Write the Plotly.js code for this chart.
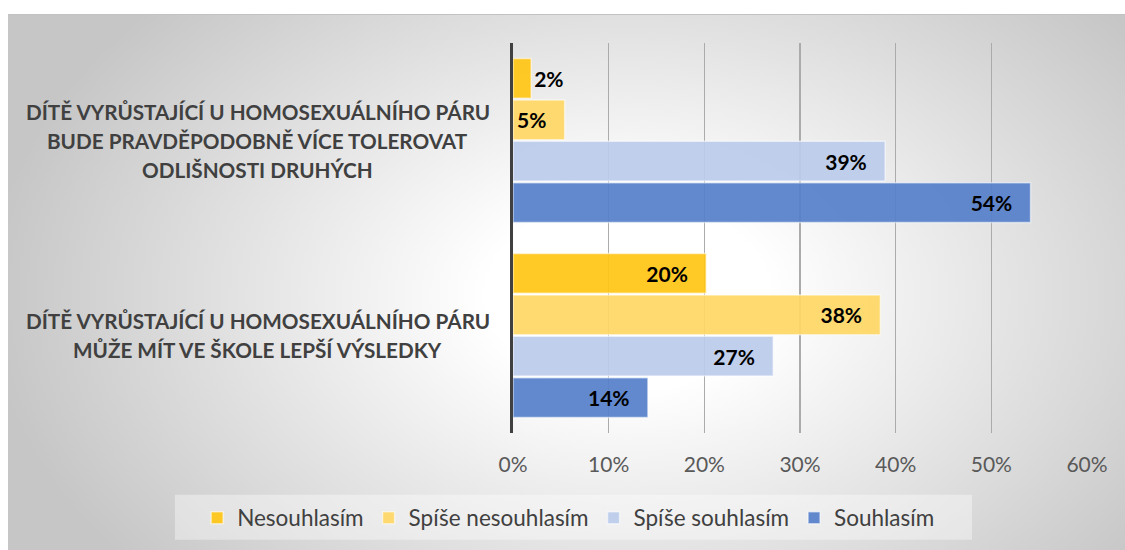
<!DOCTYPE html>
<html><head><meta charset="utf-8">
<script src="https://cdn.plot.ly/plotly-3.0.1.min.js"></script>
<style>
html,body{margin:0;padding:0;background:#fff;}
#wrap{position:relative;width:1125px;height:550px;overflow:hidden;}
#bg{position:absolute;left:8px;top:14px;width:1117px;height:536px;border-top:1px solid #c2c2c2;
background:radial-gradient(ellipse 640px 430px at 620px 280px,#ffffff 0%,#ffffff 22%,#c6c6c6 100%);}
#chart{position:absolute;left:0;top:0;width:1125px;height:550px;}
</style></head>
<body><div id="wrap"><div id="bg"></div><div id="chart"></div></div>
<script>
// ---- data ----
const categoryLines = [
  ["DÍTĚ VYRŮSTAJÍCÍ U HOMOSEXUÁLNÍHO PÁRU", "BUDE PRAVDĚPODOBNĚ VÍCE TOLEROVAT", "ODLIŠNOSTI DRUHÝCH"],
  ["DÍTĚ VYRŮSTAJÍCÍ U HOMOSEXUÁLNÍHO PÁRU", "MŮŽE MÍT VE ŠKOLE LEPŠÍ VÝSLEDKY"]
];
const categories = categoryLines.map(l => l.join(' '));
const seriesNames = ["Nesouhlasím", "Spíše nesouhlasím", "Spíše souhlasím", "Souhlasím"];
const nesouhlasim = [1.9, 20.2];
const spiseNesouhlasim = [5.4, 38.4];
const spiseSouhlasim = [38.9, 27.2];
const souhlasim = [54.1, 14.1];
const xTickValues = [0, 10, 20, 30, 40, 50, 60];

// ---- styling ----
const FONT = 'Lato, "Open Sans", "DejaVu Sans", sans-serif';
const colors = ["rgba(255,196,20,0.92)", "rgba(255,215,100,0.92)", "rgba(186,203,234,0.92)", "rgba(85,127,202,0.92)"];
const seriesValues = [nesouhlasim, spiseNesouhlasim, spiseSouhlasim, souhlasim];

const traces = seriesValues.map((vals, i) => ({
  type: 'bar',
  orientation: 'h',
  name: seriesNames[i],
  x: vals,
  y: categories,
  marker: {color: colors[i], line: {color: 'rgba(255,255,255,0.55)', width: 1.5}},
  texttemplate: '%{x:.0f}%\u00a0\u00a0\u00a0',
  textposition: vals.map(v => v < 4 ? 'outside' : 'inside'),
  insidetextanchor: 'end',
  constraintext: 'none',
  cliponaxis: false,
  textfont: {family: FONT, size: 21, color: '#000', weight: 'bold'},
  insidetextfont: {family: FONT, size: 21, color: '#000', weight: 'bold'},
  outsidetextfont: {family: FONT, size: 21, color: '#000', weight: 'bold'},
  hoverinfo: 'skip'
}));

const annotations = [];
categoryLines.forEach((lines, ci) => {
  const n = lines.length;
  lines.forEach((line, li) => {
    annotations.push({
      xref: 'paper', yref: 'y', x: -0.4443, y: categories[ci], xanchor: 'center', yanchor: 'middle',
      yshift: ((n - 1) / 2 - li) * 29, text: line, showarrow: false,
      font: {family: FONT, size: 20.7, color: '#404040', weight: 'bold'}
    });
  });
});

const layout = {
  width: 1125, height: 550,
  margin: {l: 513, r: 38, t: 43, b: 116, pad: 0},
  paper_bgcolor: 'rgba(0,0,0,0)',
  plot_bgcolor: 'rgba(0,0,0,0)',
  barmode: 'group',
  bargap: 0.15,
  bargroupgap: 0.04,
  showlegend: true,
  xaxis: {
    range: [0, 60], tickvals: xTickValues, ticktext: xTickValues.map(v => v + '%'),
    showgrid: true, gridcolor: '#ababab', gridwidth: 1.5, zeroline: false, showline: false,
    ticks: '', ticklabelstandoff: 17,
    tickfont: {family: FONT, size: 21, color: '#595959'}, fixedrange: true
  },
  yaxis: {
    type: 'category', autorange: 'reversed', showticklabels: false, ticks: '',
    showgrid: false, zeroline: false, showline: true, linecolor: '#404040', linewidth: 3, fixedrange: true
  },
  legend: {
    orientation: 'h', x: -0.5503, xanchor: 'left', y: -0.215, yanchor: 'middle',
    bgcolor: 'rgba(0,0,0,0)', font: {family: FONT, size: 22.5, color: '#404040'},
    traceorder: 'normal', itemclick: false, itemdoubleclick: false
  },
  shapes: [{
    type: 'rect', xref: 'paper', yref: 'paper', x0: -0.589, x1: 0.7997, y0: -0.2737, y1: -0.1586,
    fillcolor: 'rgba(255,255,255,0.38)', line: {width: 0}, layer: 'below'
  }],
  annotations: annotations,
  hovermode: false
};

Plotly.newPlot('chart', traces, layout, {staticPlot: true, displayModeBar: false});
</script>
</body></html>
